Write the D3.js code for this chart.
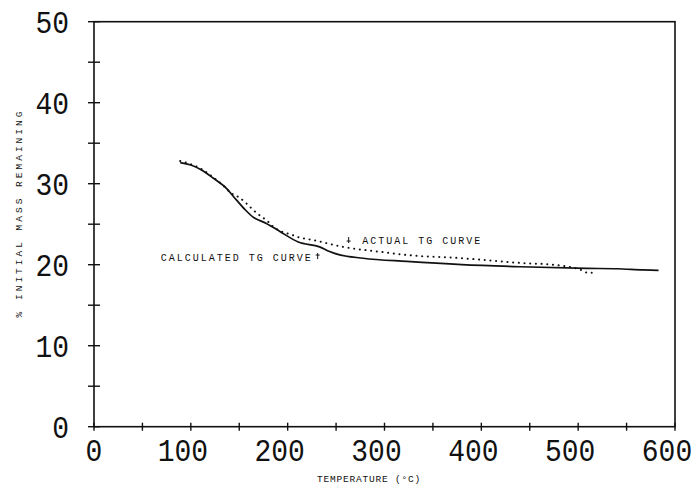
<!DOCTYPE html>
<html>
<head>
<meta charset="utf-8">
<script src="https://cdn.jsdelivr.net/npm/d3@7"></script>
<style>
  body { margin: 0; background: #fff; }
  svg { display: block; }
  .tick-label { font-family: "Liberation Mono", "DejaVu Sans Mono", monospace; font-size: 28px; fill: #111; }
  .note { font-family: "Liberation Mono", "Courier New", monospace; font-size: 10px; fill: #111; letter-spacing: 2px; }
</style>
</head>
<body>
<svg id="chart" width="696" height="488"></svg>
<script>
  // temperature (deg C) vs % initial mass remaining
  var xTicks = [0, 100, 200, 300, 400, 500, 600];
  var yTicks = [0, 10, 20, 30, 40, 50];

  // calculated TG curve (solid)
  var calcT = [89, 100, 111, 123, 137, 147, 156, 164, 178, 192, 211, 233, 244, 251, 278, 323, 380, 440, 509, 540, 567, 583];
  var calcM = [32.6, 32.3, 31.7, 30.7, 29.4, 28.0, 26.8, 25.9, 25.1, 24.1, 22.8, 22.2, 21.6, 21.3, 20.8, 20.4, 20.0, 19.75, 19.55, 19.5, 19.35, 19.3];

  // actual TG curve (dotted)
  var actT = [89, 100, 111, 123, 135, 142, 150, 157, 164, 171, 179, 184, 190, 204, 211, 226, 257, 295, 323, 380, 443, 474, 492, 502, 510, 514];
  var actM = [32.8, 32.4, 31.8, 30.8, 29.6, 28.8, 28.3, 27.6, 26.8, 26.1, 25.4, 24.8, 24.3, 23.7, 23.4, 23.05, 22.2, 21.6, 21.2, 20.8, 20.2, 20.0, 19.7, 19.4, 19.0, 19.0];

  var svg = d3.select("#chart");

  var x = d3.scaleLinear().domain([0, 600]).range([94, 675]);
  var y = d3.scaleLinear().domain([0, 50]).range([426.7, 21.7]);

  var g = svg.append("g");

  // frame
  g.append("rect")
    .attr("x", x(0)).attr("y", y(50))
    .attr("width", x(600) - x(0)).attr("height", y(0) - y(50))
    .attr("fill", "none").attr("stroke", "#111").attr("stroke-width", 1.6);

  // y ticks every 5, crossing the axis
  g.append("g").selectAll("line")
    .data(d3.range(0, 51, 5))
    .enter().append("line")
      .attr("x1", x(0) - 6).attr("x2", x(0) + 6)
      .attr("y1", function(d) { return y(d); })
      .attr("y2", function(d) { return y(d); })
      .attr("stroke", "#111").attr("stroke-width", 1.4);

  // x ticks every 50
  g.append("g").selectAll("line")
    .data(d3.range(0, 601, 50))
    .enter().append("line")
      .attr("x1", function(d) { return x(d); })
      .attr("x2", function(d) { return x(d); })
      .attr("y1", y(0) - 4).attr("y2", y(0) + 4)
      .attr("stroke", "#111").attr("stroke-width", 1.4);

  // the plotter put the 3-digit labels slightly left of their ticks,
  // and its digits are taller than a normal mono font
  g.append("g").selectAll("text")
    .data(xTicks)
    .enter().append("text")
      .attr("class", "tick-label")
      .attr("transform", function(d) {
        return "translate(" + (x(d) - (d >= 100 ? 8 : 0)) + ",461) scale(1,1.12)";
      })
      .attr("text-anchor", "middle")
      .text(function(d) { return d; });

  g.append("g").selectAll("text")
    .data(yTicks)
    .enter().append("text")
      .attr("class", "tick-label")
      .attr("transform", function(d) {
        return "translate(69," + (y(d) + 11) + ") scale(1,1.12)";
      })
      .attr("text-anchor", "end")
      .text(function(d) { return d; });

  // axis titles
  svg.append("text")
    .attr("class", "note")
    .attr("x", 369).attr("y", 482)
    .attr("text-anchor", "middle")
    .style("letter-spacing", "0.8px")
    .style("font-size", "9.5px")
    .text("TEMPERATURE (°C)");

  svg.append("text")
    .attr("class", "note")
    .attr("transform", "translate(22,213) rotate(-90)")
    .attr("text-anchor", "middle")
    .style("letter-spacing", "3px")
    .style("font-size", "9.5px")
    .text("% INITIAL MASS REMAINING");

  var line = d3.line()
    .x(function(d) { return x(d[0]); })
    .y(function(d) { return y(d[1]); })
    .curve(d3.curveMonotoneX);

  g.append("path")
    .datum(d3.zip(calcT, calcM))
    .attr("d", line)
    .attr("fill", "none").attr("stroke", "#111").attr("stroke-width", 1.7);

  g.append("path")
    .datum(d3.zip(actT, actM))
    .attr("d", line)
    .attr("fill", "none").attr("stroke", "#111").attr("stroke-width", 2)
    .attr("stroke-linecap", "round")
    .attr("stroke-dasharray", "0.1,5.6");

  // annotations
  g.append("text")
    .attr("class", "note")
    .attr("x", x(226)).attr("y", y(20.45))
    .attr("text-anchor", "end")
    .text("CALCULATED TG CURVE");

  g.append("path")
    .attr("d", "M" + x(231) + "," + (y(20.45) - 2) + "V" + (y(20.45) - 8) +
               "M" + (x(231) - 2) + "," + (y(20.45) - 6) + "H" + (x(231) + 2))
    .attr("stroke", "#111").attr("stroke-width", 1);

  g.append("text")
    .attr("class", "note")
    .attr("x", x(277)).attr("y", y(22.55))
    .text("ACTUAL TG CURVE");

  g.append("path")
    .attr("d", "M" + x(263) + "," + (y(22.55) - 7) + "V" + (y(22.55) - 1) +
               "M" + (x(263) - 2) + "," + (y(22.55) - 3) + "H" + (x(263) + 2))
    .attr("stroke", "#111").attr("stroke-width", 1);
</script>
</body>
</html>
